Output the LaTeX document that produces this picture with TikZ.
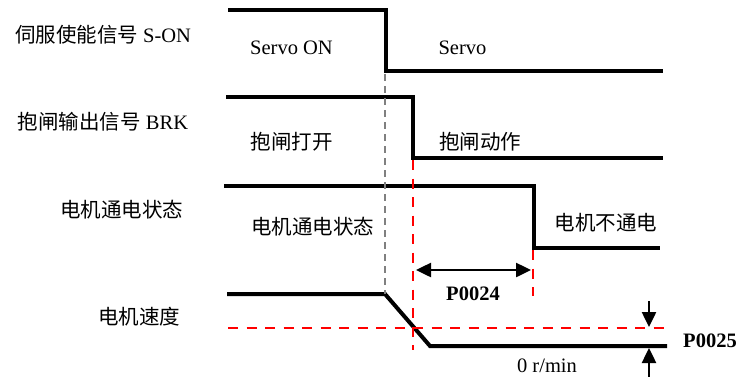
\documentclass[tikz,border=0pt]{standalone}
\usepackage{fontspec}
\setmainfont{Liberation Serif}
\newfontfamily\cjk{Noto Sans CJK SC}
\usetikzlibrary{arrows.meta}
\begin{document}
\begin{tikzpicture}[x=1pt,y=-1pt,
  sig/.style={line width=4pt, line join=miter},
  guide/.style={gray, line width=1.5pt, dash pattern=on 7pt off 5pt},
  redguide/.style={red, line width=2.3pt, dash pattern=on 10pt off 8.5pt},
  lbl/.style={font=\fontsize{20.5}{24}\selectfont, inner sep=0pt},
  blbl/.style={font=\fontsize{20.5}{24}\selectfont\bfseries, inner sep=0pt},
  meas/.style={line width=2.5pt, -{Triangle[length=15pt,width=14pt]}},
]
\useasboundingbox (0,0) rectangle (740,376);

% left labels
\node[lbl] (lson) at (103,35) {{\cjk 伺服使能信号} S-ON};
\node[lbl] (lbrk) at (103,122) {{\cjk 抱闸输出信号} BRK};
\node[lbl] (lpow) at (121.5,210) {\cjk 电机通电状态};
\node[lbl] (lspd) at (139,317) {\cjk 电机速度};

% signals
\coordinate (s0) at (228,10);  \coordinate (s1) at (386,10);
\coordinate (s2) at (386,71);  \coordinate (s3) at (663,71);
\draw[sig] (s0) -- (s1) -- (s2) -- (s3);

\coordinate (b0) at (226,97);  \coordinate (b1) at (413,97);
\coordinate (b2) at (413,158); \coordinate (b3) at (663,158);
\draw[sig] (b0) -- (b1) -- (b2) -- (b3);

\coordinate (p0) at (224,186); \coordinate (p1) at (534,186);
\coordinate (p2) at (534,248); \coordinate (p3) at (660,248);
\draw[sig] (p0) -- (p1) -- (p2) -- (p3);

\coordinate (v0) at (227,294); \coordinate (v1) at (385,294);
\coordinate (v2) at (430,346); \coordinate (v3) at (667,346);
\draw[sig] (v0) -- (v1) -- (v2) -- (v3);

% inner labels
\node[lbl] (tson) at (291.5,48) {Servo ON};
\node[lbl] (tsoff) at (462.5,48) {Servo};
\node[lbl] (tbo) at (291.5,142) {\cjk 抱闸打开};
\node[lbl] (tba) at (480,142) {\cjk 抱闸动作};
\node[lbl] (tpo) at (312.5,227) {\cjk 电机通电状态};
\node[lbl] (tpf) at (606,223) {\cjk 电机不通电};
\node[lbl] (tzero) at (547,366) {0 r/min};

% guides
\draw[guide] (385,74) -- (385,294);
\draw[redguide] (413,160) -- (413,350);
\draw[redguide] (533,250) -- (533,296);
\coordinate (h0) at (228,328); \coordinate (h1) at (667,328);
\draw[redguide] (h0) -- (h1);

% P0024
\coordinate (a0) at (416,270); \coordinate (a1) at (531,270);
\draw[line width=2.5pt, {Triangle[length=15pt,width=14pt]}-{Triangle[length=15pt,width=14pt]}] (a0) -- (a1);
\node[blbl] (n24) at (473,294) {P0024};

% P0025
\coordinate (d0) at (649,301); \coordinate (d1) at (649,327);
\coordinate (u0) at (649,378); \coordinate (u1) at (649,348);
\draw[meas] (d0) -- (d1);
\draw[meas] (u0) -- (u1);
\node[blbl] (n25) at (710,341) {P0025};
\end{tikzpicture}
\end{document}
